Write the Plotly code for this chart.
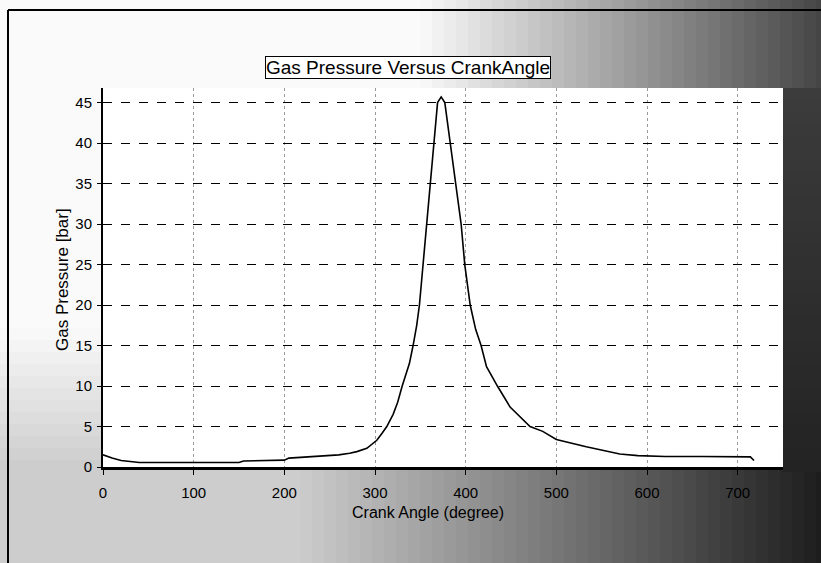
import plotly.graph_objects as go

# ---- data ----
crank_angle = [0, 10, 20, 40, 100, 150, 155, 200, 205, 240, 260, 272, 280, 291, 302,
               308, 313, 320, 325, 330, 338, 342, 346, 349, 353, 357, 361, 365, 369,
               373, 377, 383, 389, 395, 399, 405, 411, 417, 423, 435, 449, 460, 471,
               485, 500, 533, 570, 590, 620, 660, 700, 714, 718]
gas_pressure = [1.5, 1.1, 0.8, 0.55, 0.55, 0.55, 0.75, 0.85, 1.1, 1.3, 1.5, 1.7, 1.9, 2.3, 3.3,
                4.2, 5.0, 6.5, 8.0, 10.0, 12.8, 15.0, 17.5, 20.0, 25.0, 30.0, 35.0, 40.0, 45.0,
                45.7, 45.0, 40.0, 35.0, 30.0, 25.0, 20.0, 17.0, 15.0, 12.4, 10.0, 7.4, 6.2, 5.0,
                4.4, 3.4, 2.5, 1.6, 1.4, 1.3, 1.3, 1.27, 1.25, 0.8]
x_ticks = [0, 100, 200, 300, 400, 500, 600, 700]
y_ticks = [0, 5, 10, 15, 20, 25, 30, 35, 40, 45]

W, H = 821, 563
L, R, T, B = 103, 783, 88, 467  # plot area in pixels


def px(x):
    return (x - L) / (R - L)


def py(y):
    return (B - y) / (B - T)


def rect(x0, y0, x1, y1, color):
    return dict(type="rect", xref="paper", yref="paper", x0=px(x0), x1=px(x1),
                y0=py(y1), y1=py(y0), fillcolor=color, line=dict(width=0), layer="below")


def grey(v):
    v = max(0, min(255, int(v)))
    return f"rgb({v},{v},{v})"


shapes = []
step = 12
# top band gradient (light on the left, dark toward the right)
for x0 in range(0, W, step):
    xc = x0 + step / 2
    v = 250 if xc < 420 else 250 - (xc - 420) / (W - 420) * 180
    shapes.append(rect(x0, 0, x0 + step, T, grey(v)))
# bottom band gradient
for x0 in range(0, W, step):
    xc = x0 + step / 2
    v = 205 if xc < 300 else 205 - (xc - 300) / (W - 300) * 175
    shapes.append(rect(x0, B, x0 + step, H, grey(v)))
# right margin
for y0 in range(int(T), int(B), step):
    shapes.append(rect(R, y0, W, y0 + step, grey(60 - (y0 - T) / (B - T) * 25)))
# left margin (white on top, greyer at bottom)
for y0 in range(int(T), int(B), step):
    yc = y0 + step / 2
    v = 250 if yc < 330 else 250 - (yc - 330) / (B - 330) * 45
    shapes.append(rect(0, y0, L, y0 + step, grey(v)))
# outer frame lines
shapes.append(dict(type="line", xref="paper", yref="paper", x0=px(8), x1=px(W + 5),
                   y0=py(10), y1=py(10), line=dict(color="black", width=2), layer="above"))
shapes.append(dict(type="line", xref="paper", yref="paper", x0=px(8), x1=px(8),
                   y0=py(10), y1=py(H + 5), line=dict(color="black", width=2), layer="above"))

fig = go.Figure()
fig.add_trace(go.Scatter(x=crank_angle, y=gas_pressure, mode="lines",
                         line=dict(color="black", width=1.6), showlegend=False))

fig.update_layout(
    width=W, height=H,
    margin=dict(l=L, r=W - R, t=T, b=H - B, autoexpand=False),
    paper_bgcolor="white", plot_bgcolor="white",
    font=dict(family="Liberation Sans, Arial, sans-serif", color="black"),
    shapes=shapes,
    xaxis=dict(range=[0, 750], tickvals=x_ticks, ticktext=[str(v) for v in x_ticks],
               showgrid=True, gridcolor="#9a9a9a", griddash="dot", gridwidth=1,
               showline=True, linecolor="black", linewidth=3,
               ticks="outside", ticklen=5, tickcolor="black", ticklabelstandoff=5,
               tickfont=dict(size=15), zeroline=False),
    yaxis=dict(range=[0, 46.8], tickvals=y_ticks, ticktext=[str(v) for v in y_ticks],
               showgrid=True, gridcolor="black", griddash="dash", gridwidth=1.3,
               showline=True, linecolor="black", linewidth=2,
               ticks="outside", ticklen=4, tickcolor="black", ticklabelstandoff=2,
               tickfont=dict(size=15), zeroline=False),
    annotations=[
        dict(text="Gas Pressure Versus CrankAngle", xref="paper", yref="paper",
             x=px(408), y=py(67), xanchor="center", yanchor="middle", showarrow=False,
             font=dict(size=19, color="black"),
             bordercolor="black", borderwidth=1, borderpad=0, bgcolor="white"),
        dict(text="Gas Pressure [bar]", xref="paper", yref="paper", x=px(62), y=py(280),
             xanchor="center", yanchor="middle", showarrow=False, textangle=-90,
             font=dict(size=17, color="black")),
        dict(text="Crank Angle (degree)", xref="paper", yref="paper", x=px(428), y=py(512),
             xanchor="center", yanchor="middle", showarrow=False,
             font=dict(size=16, color="black")),
    ],
)

fig.write_html("out.html", config={"displayModeBar": False},
               post_script="document.body.style.margin='0';")
